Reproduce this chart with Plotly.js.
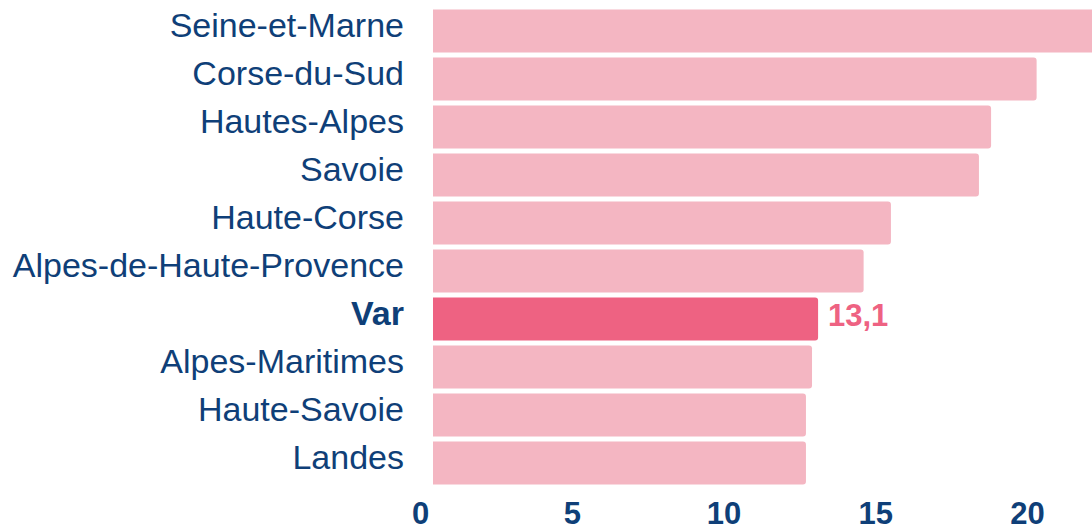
<!DOCTYPE html>
<html>
<head>
<meta charset="utf-8">
<script src="https://cdn.plot.ly/plotly-3.0.1.min.js"></script>
<style>
  html, body { margin: 0; padding: 0; background: #fff; }
  #chart { width: 1092px; height: 530px; }
</style>
</head>
<body>
<div id="chart"></div>
<script>
"use strict";

// Départements, top to bottom
var departements = [
  'Seine-et-Marne', 'Corse-du-Sud', 'Hautes-Alpes', 'Savoie', 'Haute-Corse',
  'Alpes-de-Haute-Provence', 'Var', 'Alpes-Maritimes', 'Haute-Savoie', 'Landes'
];
var valeurs = [23.4, 20.3, 18.8, 18.4, 15.5, 14.6, 13.1, 12.9, 12.7, 12.7];
var highlight = 'Var';
var xTicks = [0, 5, 10, 15, 20];

var BLUE = '#0f3f78';
var PINK_LIGHT = '#f4b6c2';
var PINK_DARK = '#ee6282';
var W = 1092;

var colors = departements.map(d => d === highlight ? PINK_DARK : PINK_LIGHT);
var tickText = departements.map(d => d === highlight ? '<b>' + d + '</b>' : d);
var hiIndex = departements.indexOf(highlight);

var bars = {
  type: 'bar',
  orientation: 'h',
  x: valeurs,
  y: departements,
  marker: { color: colors, cornerradius: 3 },
  hoverinfo: 'x+y',
  showlegend: false
};

// Same scale for both x axes: the bars start a little right of the 0 label.
var pxPerUnit = 30.35;
var xMax = (W - 420.5) / pxPerUnit;
var xMinBars = xMax - (W - 433) / pxPerUnit;

var layout = {
  width: W,
  height: 530,
  margin: { l: 0, r: 0, t: 7, b: 43 },
  paper_bgcolor: '#fff',
  plot_bgcolor: 'rgba(0,0,0,0)', // x2 subplot sits over the bars
  font: { family: 'Liberation Sans, Arial, sans-serif', color: BLUE },
  bargap: 0.1,
  xaxis: {
    domain: [433 / W, 1],
    range: [xMinBars, xMax],
    showticklabels: false,
    showgrid: false,
    zeroline: false,
    showline: false,
    fixedrange: true
  },
  xaxis2: {
    domain: [420.5 / W, 1],
    range: [0, xMax],
    anchor: 'y',
    tickvals: xTicks,
    ticktext: xTicks.map(String),
    ticks: '',
    ticklabelstandoff: 5,
    tickfont: { family: 'Liberation Sans, Arial, sans-serif', size: 31, color: BLUE, weight: 'bold' },
    showgrid: false,
    zeroline: false,
    showline: false,
    fixedrange: true
  },
  yaxis: {
    categoryorder: 'array',
    categoryarray: departements,
    autorange: 'reversed',
    tickvals: departements,
    ticktext: tickText,
    ticks: '',
    ticklabelstandoff: 28,
    ticklabelshift: 6,
    tickfont: { size: 34, color: BLUE },
    showgrid: false,
    zeroline: false,
    showline: false,
    fixedrange: true
  },
  annotations: [{
    x: valeurs[hiIndex],
    y: highlight,
    xref: 'x',
    yref: 'y',
    xanchor: 'left',
    yanchor: 'middle',
    xshift: 8,
    yshift: 4,
    showarrow: false,
    text: '<b>' + valeurs[hiIndex].toFixed(1).replace('.', ',') + '</b>',
    font: { size: 31, color: PINK_DARK }
  }]
};

// dummy trace so xaxis2 gets drawn
var axisCarrier = {
  type: 'scatter',
  mode: 'markers',
  x: [],
  y: [],
  xaxis: 'x2',
  yaxis: 'y',
  showlegend: false,
  hoverinfo: 'skip'
};

Plotly.newPlot('chart', [bars, axisCarrier], layout, { displayModeBar: false, staticPlot: true });
</script>
</body>
</html>
